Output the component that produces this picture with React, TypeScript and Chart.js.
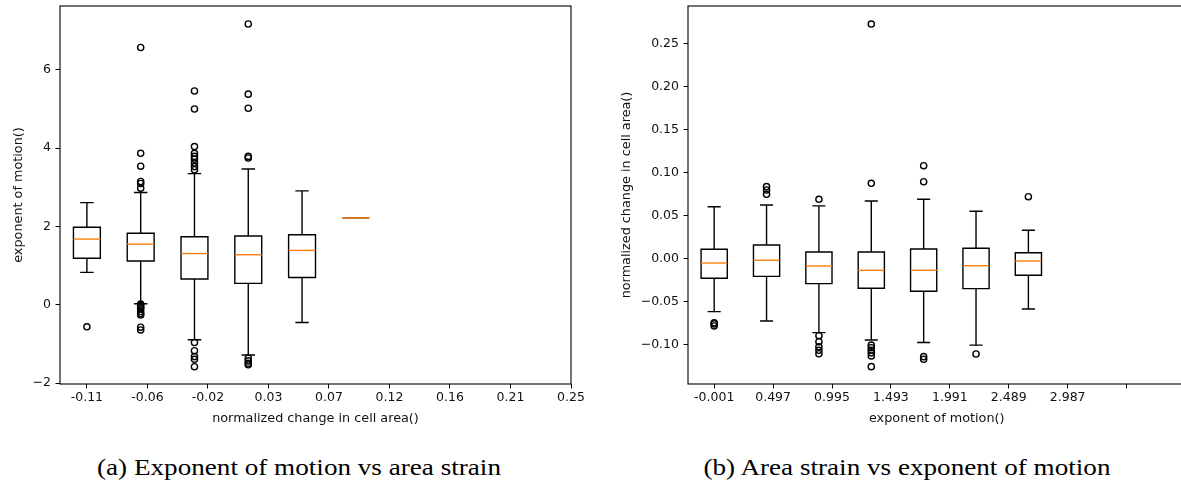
import React, { useEffect, useRef } from 'react';
import { Chart, registerables } from 'chart.js';

Chart.register(...registerables);

// ---------------- Panel (a): exponent of motion vs area strain ----------------
const aPositions = [1, 2, 3, 4, 5, 6];
const aWhiskerLow = [0.83, 0.03, -0.89, -1.28, -0.45, 2.22];
const aQ1 = [1.19, 1.12, 0.66, 0.55, 0.7, 2.22];
const aMedian = [1.68, 1.55, 1.31, 1.28, 1.39, 2.22];
const aQ3 = [1.98, 1.83, 1.74, 1.76, 1.79, 2.22];
const aWhiskerHigh = [2.61, 2.87, 3.35, 3.47, 2.91, 2.22];
const aOutliers = [
  [-0.56],
  [6.57, 3.87, 3.54, 3.15, 3.1, 2.98, 0.02, -0.02, -0.06, -0.1, -0.17, -0.22, -0.26, -0.57, -0.64],
  [5.46, 5.0, 4.04, 3.87, 3.79, 3.72, 3.62, 3.53, 3.45, -0.96, -1.17, -1.32, -1.39, -1.58],
  [7.17, 5.38, 5.02, 3.79, 3.75, -1.36, -1.43, -1.49, -1.53],
  [],
  [],
];
const aXTickPositions = [1, 2.125, 3.25, 4.375, 5.5, 6.625, 7.75, 8.875, 10];
const aXTickLabels = ['-0.11', '-0.06', '-0.02', '0.03', '0.07', '0.12', '0.16', '0.21', '0.25'];
const aYTicks = [-2, 0, 2, 4, 6];
const aXTitle = 'normalized change in cell area()';
const aYTitle = 'exponent of motion()';
const aCaption = '(a) Exponent of motion vs area strain';

// ---------------- Panel (b): area strain vs exponent of motion ----------------
const bPositions = [1, 2, 3, 4, 5, 6, 7];
const bWhiskerLow = [-0.062, -0.073, -0.0865, -0.095, -0.098, -0.101, -0.059];
const bQ1 = [-0.0233, -0.021, -0.0295, -0.0349, -0.0384, -0.0353, -0.0198];
const bMedian = [-0.0055, -0.0023, -0.009, -0.014, -0.014, -0.0086, -0.0031];
const bQ3 = [0.0105, 0.0155, 0.0073, 0.0073, 0.0108, 0.0116, 0.0065];
const bWhiskerHigh = [0.06, 0.062, 0.061, 0.0666, 0.0686, 0.0547, 0.0326];
const bOutliers = [
  [-0.075, -0.0764, -0.0787],
  [0.0833, 0.0794, 0.0744],
  [0.0686, -0.09, -0.097, -0.103, -0.107, -0.111],
  [0.2724, 0.0872, -0.101, -0.104, -0.107, -0.11, -0.1136, -0.126],
  [0.1077, 0.089, -0.1144, -0.1175],
  [-0.1113],
  [0.0716],
];
const bXTickPositions = [1, 2.125, 3.25, 4.375, 5.5, 6.625, 7.75, 8.875, 10];
const bXTickLabels = ['-0.001', '0.497', '0.995', '1.493', '1.991', '2.489', '2.987', '', ''];
const bYTicks = [-0.1, -0.05, 0.0, 0.05, 0.1, 0.15, 0.2, 0.25];
const bXTitle = 'exponent of motion()';
const bYTitle = 'normalized change in cell area()';
const bCaption = '(b) Area strain vs exponent of motion';

// ---------------- styling ----------------
const BOX_HALF = 0.25;
const CAP_HALF = 0.125;
const BOX_LINE = 1.4;
const MEDIAN_COLOR = '#ff7f0e';
const TEXT_COLOR = '#111';
const TICK_FONT = { family: 'DejaVu Sans', size: 12.5 };
const TITLE_FONT = { family: 'DejaVu Sans', size: 12.8 };

type Stats = {
  positions: number[];
  low: number[];
  q1: number[];
  med: number[];
  q3: number[];
  high: number[];
};

const makeBoxPlugin = (s: Stats) => ({
  id: 'boxes',
  beforeDatasetsDraw(chart: any) {
    const { ctx } = chart;
    const x = chart.scales.x;
    const y = chart.scales.y;
    ctx.save();
    ctx.lineWidth = BOX_LINE;
    s.positions.forEach((p, i) => {
      const xl = x.getPixelForValue(p - BOX_HALF);
      const xr = x.getPixelForValue(p + BOX_HALF);
      const xc = x.getPixelForValue(p);
      const cl = x.getPixelForValue(p - CAP_HALF);
      const cr = x.getPixelForValue(p + CAP_HALF);
      const yLo = y.getPixelForValue(s.low[i]);
      const yQ1 = y.getPixelForValue(s.q1[i]);
      const yMed = y.getPixelForValue(s.med[i]);
      const yQ3 = y.getPixelForValue(s.q3[i]);
      const yHi = y.getPixelForValue(s.high[i]);
      ctx.strokeStyle = '#000';
      ctx.beginPath();
      ctx.moveTo(xl, yQ1);
      ctx.lineTo(xr, yQ1);
      ctx.lineTo(xr, yQ3);
      ctx.lineTo(xl, yQ3);
      ctx.closePath();
      ctx.moveTo(xc, yQ1);
      ctx.lineTo(xc, yLo);
      ctx.moveTo(xc, yQ3);
      ctx.lineTo(xc, yHi);
      ctx.moveTo(cl, yLo);
      ctx.lineTo(cr, yLo);
      ctx.moveTo(cl, yHi);
      ctx.lineTo(cr, yHi);
      ctx.stroke();
      ctx.strokeStyle = MEDIAN_COLOR;
      ctx.beginPath();
      ctx.moveTo(xl, yMed);
      ctx.lineTo(xr, yMed);
      ctx.stroke();
    });
    ctx.restore();
  },
});

const framePlugin = {
  id: 'frame',
  afterDatasetsDraw(chart: any) {
    const { ctx, chartArea: a } = chart;
    ctx.save();
    ctx.strokeStyle = '#000';
    ctx.lineWidth = 1.1;
    ctx.strokeRect(a.left, a.top, a.right - a.left, a.bottom - a.top);
    ctx.restore();
  },
};

type PanelProps = {
  left: number;
  width: number;
  height: number;
  yAxisWidth: number;
  padRight: number;
  stats: Stats;
  outliers: number[][];
  xMin: number;
  xMax: number;
  yMin: number;
  yMax: number;
  xTickPositions: number[];
  xTickLabels: string[];
  yTicks: number[];
  yDecimals: number;
  xTitle: string;
  yTitle: string;
  yTitlePad: number;
};

function Panel(p: PanelProps) {
  const ref = useRef<HTMLCanvasElement | null>(null);
  useEffect(() => {
    if (!ref.current) return;
    const points = p.outliers.flatMap((vals, i) =>
      vals.map((v) => ({ x: p.stats.positions[i], y: v }))
    );
    const fmt = (v: number) => {
      const s = Math.abs(v).toFixed(p.yDecimals);
      return v < -1e-9 ? '\u2212' + s : s;
    };
    const zeroPad = (s: any) => {
      s.paddingLeft = 0;
      s.paddingRight = 0;
      s.paddingTop = 0;
      s.paddingBottom = 0;
    };
    const chart = new Chart(ref.current, {
      type: 'scatter',
      data: {
        datasets: [
          {
            data: points,
            pointRadius: 3.1,
            pointHoverRadius: 3.1,
            pointBorderColor: '#000',
            pointBackgroundColor: 'rgba(0,0,0,0)',
            pointBorderWidth: 1.4,
            showLine: false,
          } as any,
        ],
      },
      options: {
        responsive: false,
        animation: false,
        devicePixelRatio: 1,
        events: [],
        layout: { padding: { top: 6, right: p.padRight, bottom: 0, left: 0 } },
        plugins: { legend: { display: false }, tooltip: { enabled: false } },
        scales: {
          x: {
            type: 'linear',
            min: p.xMin,
            max: p.xMax,
            afterBuildTicks: (s: any) => {
              s.ticks = p.xTickPositions.map((v) => ({ value: v }));
            },
            afterFit: (s: any) => {
              s.height = 46;
              zeroPad(s);
            },
            ticks: {
              callback: (_v: any, i: number) => p.xTickLabels[i],
              font: TICK_FONT,
              color: TEXT_COLOR,
              padding: 2,
              maxRotation: 0,
              autoSkip: false,
            },
            grid: {
              display: true,
              drawOnChartArea: false,
              drawTicks: true,
              tickLength: 4.5,
              color: '#000',
              lineWidth: 1,
            },
            border: { display: false },
            title: {
              display: true,
              text: p.xTitle,
              font: TITLE_FONT,
              color: TEXT_COLOR,
              padding: { top: 0, bottom: 3.3 },
            },
          },
          y: {
            type: 'linear',
            min: p.yMin,
            max: p.yMax,
            afterBuildTicks: (s: any) => {
              s.ticks = p.yTicks.map((v) => ({ value: v }));
            },
            afterFit: (s: any) => {
              s.width = p.yAxisWidth;
              zeroPad(s);
            },
            ticks: {
              callback: (v: any) => fmt(Number(v)),
              font: TICK_FONT,
              color: TEXT_COLOR,
              padding: 4.5,
              autoSkip: false,
            },
            grid: {
              display: true,
              drawOnChartArea: false,
              drawTicks: true,
              tickLength: 4.5,
              color: '#000',
              lineWidth: 1,
            },
            border: { display: false },
            title: {
              display: true,
              text: p.yTitle,
              font: TITLE_FONT,
              color: TEXT_COLOR,
              padding: { top: p.yTitlePad, bottom: 0 },
            },
          },
        },
      } as any,
      plugins: [makeBoxPlugin(p.stats), framePlugin],
    });
    return () => chart.destroy();
  }, []);
  return (
    <canvas
      ref={ref}
      width={p.width}
      height={p.height}
      style={{ position: 'absolute', left: p.left, top: 0, width: p.width, height: p.height }}
    />
  );
}

const captionStyle = (center: number): React.CSSProperties => ({
  position: 'absolute',
  left: center - 300,
  top: 456.4,
  width: 600,
  textAlign: 'center',
  fontFamily: '"Liberation Serif", "Times New Roman", serif',
  fontSize: 23,
  lineHeight: '23px',
  color: '#000',
  whiteSpace: 'nowrap',
  transform: 'scaleX(1.18)',
  transformOrigin: 'center',
});

export default function App() {
  return (
    <div
      style={{
        position: 'fixed',
        left: 0,
        top: 0,
        width: 1181,
        height: 487,
        overflow: 'hidden',
        background: '#fff',
      }}
    >
      <Panel
        left={0}
        width={590}
        height={430}
        yAxisWidth={60}
        padRight={19}
        stats={{ positions: aPositions, low: aWhiskerLow, q1: aQ1, med: aMedian, q3: aQ3, high: aWhiskerHigh }}
        outliers={aOutliers}
        xMin={0.5}
        xMax={10}
        yMin={-2.02}
        yMax={7.63}
        xTickPositions={aXTickPositions}
        xTickLabels={aXTickLabels}
        yTicks={aYTicks}
        yDecimals={0}
        xTitle={aXTitle}
        yTitle={aYTitle}
        yTitlePad={10.6}
      />
      <Panel
        left={590}
        width={600}
        height={430}
        yAxisWidth={98}
        padRight={0.5}
        stats={{ positions: bPositions, low: bWhiskerLow, q1: bQ1, med: bMedian, q3: bQ3, high: bWhiskerHigh }}
        outliers={bOutliers}
        xMin={0.5}
        xMax={10}
        yMin={-0.1462}
        yMax={0.2934}
        xTickPositions={bXTickPositions}
        xTickLabels={bXTickLabels}
        yTicks={bYTicks}
        yDecimals={2}
        xTitle={bXTitle}
        yTitle={bYTitle}
        yTitlePad={29}
      />
      <div style={captionStyle(298.9)}>{aCaption}</div>
      <div style={captionStyle(906.7)}>{bCaption}</div>
    </div>
  );
}
